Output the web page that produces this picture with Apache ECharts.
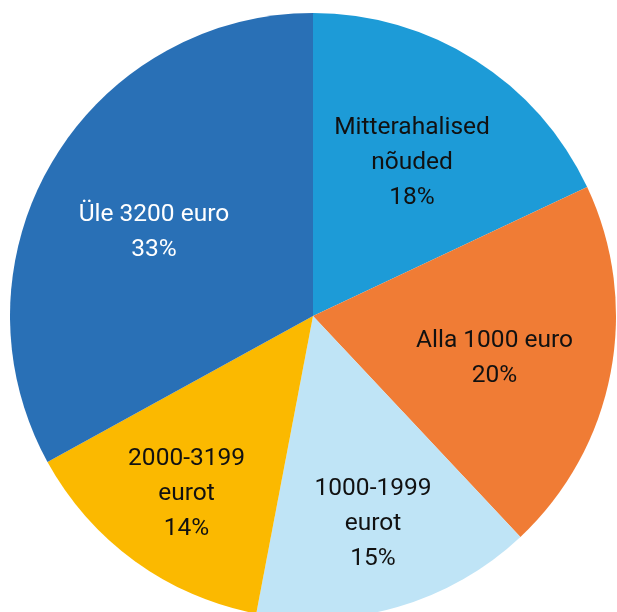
<!DOCTYPE html>
<html>
<head>
<meta charset="utf-8">
<script src="https://cdn.jsdelivr.net/npm/echarts@6/dist/echarts.min.js"></script>
<style>
  html, body { margin: 0; padding: 0; background: #ffffff; }
  #chart { width: 617px; height: 612px; }
</style>
</head>
<body>
<div id="chart"></div>
<script>
// Distribution of claims by size group (shares, %)
const categories = ['Mitterahalised\nnõuded', 'Alla 1000 euro', '1000-1999\neurot', '2000-3199\neurot', 'Üle 3200 euro'];
const shares = [18, 20, 15, 14, 33];

const colors = ['#1D9BD7', '#F07C35', '#BFE4F6', '#FBB900', '#2970B6'];
const labelColors = ['#111111', '#111111', '#111111', '#111111', '#ffffff'];

const FONT = 'Roboto, "DejaVu Sans Condensed", sans-serif';
const center = [313, 316];
const R = 303;

// Label placement: which ring each label sits in, and a small downward nudge (px)
const outerLabel = [false, false, true, true, false];
const labelNudge = [3, 8, 1, 4, 10];

function labelRing(outer) {
  return {
    type: 'pie',
    center: center,
    radius: [outer ? 0.4 * R : 0.2 * R, R],
    startAngle: 90,
    clockwise: true,
    silent: true,
    z: 3,
    itemStyle: { color: 'rgba(0,0,0,0)' },
    labelLine: { show: false },
    data: categories.map((name, i) => ({
      name: name,
      value: shares[i],
      label: {
        show: outerLabel[i] === outer,
        position: 'inside',
        formatter: name + '\n' + shares[i] + '%',
        color: labelColors[i],
        fontFamily: FONT,
        fontSize: 24.5,
        lineHeight: 35,
        align: 'center',
        offset: [0, labelNudge[i]]
      }
    }))
  };
}

const chart = echarts.init(document.getElementById('chart'), null, { renderer: 'canvas' });
chart.setOption({
  animation: false,
  backgroundColor: '#ffffff',
  series: [
    {
      type: 'pie',
      center: center,
      radius: [0, R],
      startAngle: 90,
      clockwise: true,
      z: 2,
      label: { show: false },
      labelLine: { show: false },
      itemStyle: { borderWidth: 0 },
      emphasis: { disabled: true },
      data: categories.map((name, i) => ({
        name: name,
        value: shares[i],
        itemStyle: { color: colors[i] }
      }))
    },
    labelRing(false),
    labelRing(true)
  ]
});
</script>
</body>
</html>
